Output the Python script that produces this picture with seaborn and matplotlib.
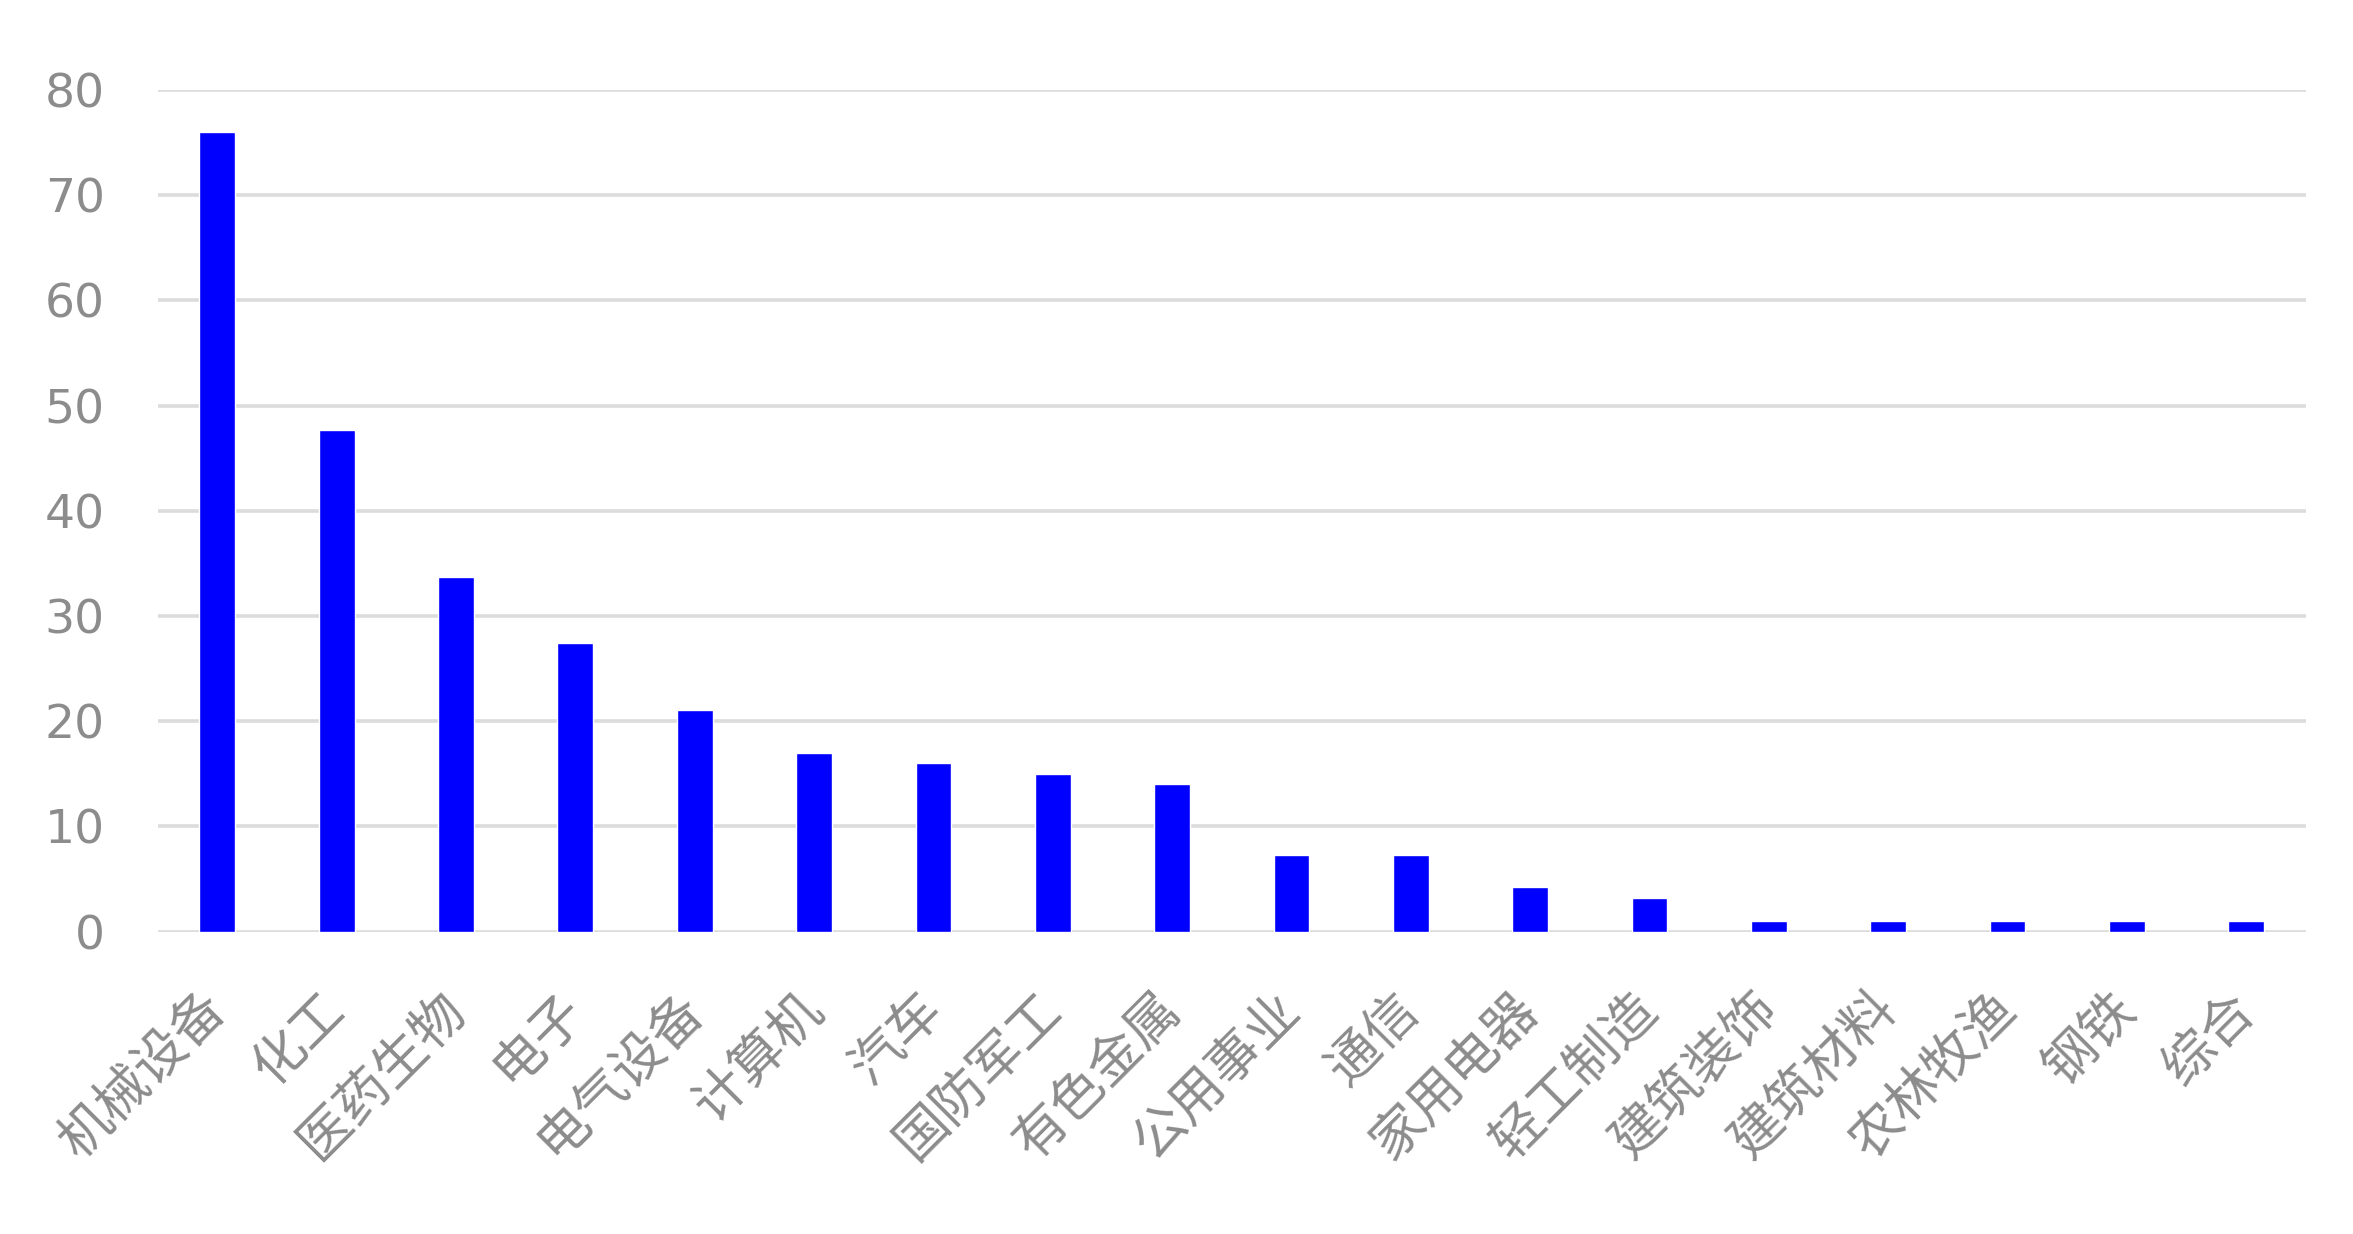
import matplotlib
matplotlib.use("Agg")
import matplotlib.pyplot as plt
import seaborn as sns
import pandas as pd

# industries and counts
industries = ["机械设备", "化工", "医药生物", "电子", "电气设备", "计算机", "汽车", "国防军工",
              "有色金属", "公用事业", "通信", "家用电器", "轻工制造", "建筑装饰", "建筑材料",
              "农林牧渔", "钢铁", "综合"]
counts = [76, 47.7, 33.7, 27.4, 21.1, 17, 16, 15, 14, 7.3, 7.3, 4.2, 3.2, 1, 1, 1, 1, 1]
y_ticks = [0, 10, 20, 30, 40, 50, 60, 70, 80]

sns.set_theme(style="white")
plt.rcParams['font.family'] = ['Noto Sans CJK SC', 'DejaVu Sans']

df = pd.DataFrame({"industry": industries, "count": counts})

fig = plt.figure(figsize=(23.53, 12.34), dpi=100)
ax = fig.add_axes([0.067, 0.245, 0.913, 0.682])

sns.barplot(data=df, x="industry", y="count", color="#0000ff", saturation=1,
            width=0.3, ax=ax, zorder=3)

ax.set_ylim(0, 80)
ax.set_yticks(y_ticks)
ax.set_yticklabels([str(v) for v in y_ticks], fontsize=34, color="#8c8c8c",
                   family=["DejaVu Sans"])
ax.grid(axis="y", color="#dcdcdc", linewidth=2.6, zorder=0)
ax.set_axisbelow(True)
for s in ax.spines.values():
    s.set_visible(False)
ax.tick_params(axis="both", length=0)
ax.tick_params(axis="y", pad=38)
ax.tick_params(axis="x", pad=50)
ax.set_xlabel("")
ax.set_ylabel("")
ax.set_xlim(-0.5, len(industries) - 0.5)

for lbl in ax.get_xticklabels():
    lbl.set_rotation(45)
    lbl.set_ha("right")
    lbl.set_va("center")
    lbl.set_rotation_mode("anchor")
    lbl.set_fontsize(38)
    lbl.set_color("#8c8c8c")

fig.savefig("out.png", dpi=100)
